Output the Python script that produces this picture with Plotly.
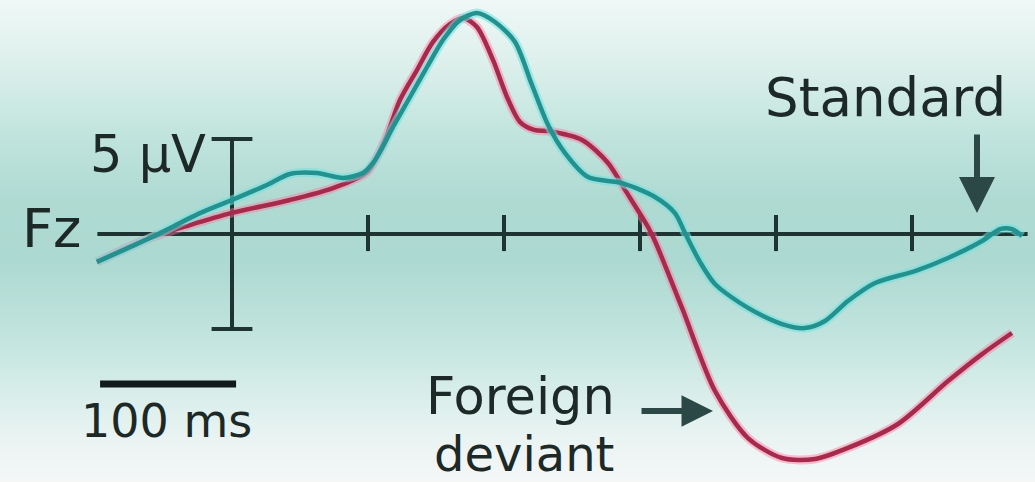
import plotly.graph_objects as go

# ERP waveforms at Fz: time in ms, amplitude in microvolts
standard_ms = [-99.3, -60.3, -23.5, 0.0, 25.7, 42.6, 62.5, 81.6, 96.3, 103.7, 108.8, 118.4,
               130.9, 143.4, 155.1, 167.6, 180.1, 193.4, 208.1, 220.6, 232.4, 244.9, 261.8,
               286.8, 311.0, 325.7, 333.1, 344.1, 355.1, 379.4, 404.4, 421.3, 436.0, 452.9,
               472.8, 502.2, 526.5, 551.5, 564.7, 573.5, 580.9]
standard_uv = [-1.47, -0.21, 1.10, 1.79, 2.58, 3.16, 3.21, 2.95, 3.21, 3.74, 4.32, 5.63,
               7.21, 8.79, 10.21, 11.26, 11.63, 11.16, 10.11, 7.84, 5.74, 4.26, 3.00,
               2.68, 1.95, 1.10, 0.05, -1.47, -2.63, -3.89, -4.74, -4.95, -4.58, -3.53,
               -2.58, -1.95, -1.26, -0.37, 0.26, 0.26, -0.11]

deviant_ms = [-99.3, -60.3, -30.9, 0.0, 42.6, 74.3, 99.3, 112.5, 123.5, 136.0, 147.8, 160.3,
              169.9, 180.1, 191.9, 202.2, 211.8, 222.8, 232.4, 257.4, 276.5, 289.0, 305.9,
              311.0, 330.9, 355.1, 379.4, 404.4, 428.7, 452.9, 489.7, 526.5, 551.5, 573.5]
deviant_uv = [-1.47, -0.21, 0.47, 1.11, 1.79, 2.42, 3.26, 4.95, 7.05, 8.63, 10.11, 11.05,
              11.37, 10.89, 9.16, 7.21, 5.89, 5.47, 5.42, 4.95, 3.74, 2.32, 0.37,
              -0.37, -3.89, -8.26, -10.74, -11.79, -11.84, -11.26, -10.00, -7.74, -6.32, -5.21]

# time axis ticks (ms) and calibration bars
tick_ms = [100, 200, 300, 400, 500]
axis_start_ms, axis_end_ms = -99, 585
amp_bar_uv = 5
time_bar_ms = 100

# canvas geometry: px per unit, origin location in the 1035x482 page
W, H = 1035, 482
PX_PER_MS = 1.36
PX_PER_UV = 19.0
X0_PX, Y0_PX = 232, 234


def ms(px):
    return (px - X0_PX) / PX_PER_MS


def uv(py):
    return (Y0_PX - py) / PX_PER_UV


x_range = [ms(0), ms(W)]
y_range = [uv(H), uv(0)]

INK = "#1d3432"
ARROW = "#2c4846"
TEAL = "#23918d"
TEAL_GLOW = "rgba(110,225,225,0.55)"
RED = "#a62a4c"
RED_GLOW = "rgba(255,120,160,0.45)"
FONT = "DejaVu Sans, Verdana, sans-serif"

fig = go.Figure()

# soft teal background band, strongest around the baseline
bg_py = [-20, 0, 60, 130, 200, 260, 330, 390, 440, 482, 510]
bg_col = ["#f3faf8", "#eff8f6", "#def0ec", "#c2e5de", "#aedad2", "#acd9d1",
          "#c0e3dd", "#d7ede9", "#eaf4f3", "#f5f7f7", "#f6f7f7"]
n = len(bg_py)
fig.add_trace(go.Heatmap(
    x=[x_range[0] - 50, x_range[1] + 50],
    y=[uv(p) for p in bg_py],
    z=[[i, i] for i in range(n)],
    colorscale=[[i / (n - 1), c] for i, c in enumerate(bg_col)],
    zmin=0, zmax=n - 1, zsmooth="best", showscale=False, hoverinfo="skip",
))


def segments(pairs):
    xs, ys = [], []
    for (xa, ya), (xb, yb) in pairs:
        xs += [xa, xb, None]
        ys += [ya, yb, None]
    return xs, ys


# baseline, ticks and amplitude bar
furniture = [((axis_start_ms, 0), (axis_end_ms, 0)),
             ((0, -amp_bar_uv), (0, amp_bar_uv)),
             ((-15, amp_bar_uv), (15, amp_bar_uv)),
             ((-15, -amp_bar_uv), (15, -amp_bar_uv))]
furniture += [((t, -0.9), (t, 1.0)) for t in tick_ms]
fx, fy = segments(furniture)
fig.add_trace(go.Scatter(x=fx, y=fy, mode="lines", hoverinfo="skip",
                         line=dict(color=INK, width=4)))

# 100 ms time bar
bar_y = uv(384)
fig.add_trace(go.Scatter(x=[-97, -97 + time_bar_ms], y=[bar_y, bar_y], mode="lines",
                         hoverinfo="skip", line=dict(color="#111a19", width=7)))

# waveforms with a soft halo under each stroke
for xs, ys, glow, core in [(deviant_ms, deviant_uv, RED_GLOW, RED),
                           (standard_ms, standard_uv, TEAL_GLOW, TEAL)]:
    fig.add_trace(go.Scatter(x=xs, y=ys, mode="lines", hoverinfo="skip",
                             line=dict(color=glow, width=9, shape="spline", smoothing=0.8)))
    fig.add_trace(go.Scatter(x=xs, y=ys, mode="lines", hoverinfo="skip",
                             line=dict(color=core, width=4.5, shape="spline", smoothing=0.8)))


def label(text, x, y, size, xanchor="center"):
    return dict(text=text, x=x, y=y, xref="x", yref="y", showarrow=False,
                xanchor=xanchor, yanchor="middle",
                font=dict(family=FONT, size=size, color="#1c2927"))


annotations = [
    label("Fz", ms(51), uv(228), 54),
    label("5 µV", ms(208), uv(154), 51, xanchor="right"),
    label("100 ms", ms(166), uv(421), 46),
    label("Standard", ms(885), uv(97), 53),
    label("Foreign", ms(520), uv(396), 51),
    label("deviant", ms(524), uv(454), 48),
    dict(text="", x=ms(977), y=uv(213), ax=ms(977), ay=uv(133),
         xref="x", yref="y", axref="x", ayref="y", showarrow=True,
         arrowhead=2, arrowsize=1.2, arrowwidth=6, arrowcolor=ARROW),
    dict(text="", x=ms(713), y=uv(411), ax=ms(640), ay=uv(411),
         xref="x", yref="y", axref="x", ayref="y", showarrow=True,
         arrowhead=2, arrowsize=1.05, arrowwidth=6, arrowcolor=ARROW),
]

fig.update_layout(
    width=W, height=H,
    margin=dict(l=0, r=0, t=0, b=0),
    paper_bgcolor="#eef6f4", plot_bgcolor="rgba(0,0,0,0)",
    showlegend=False,
    xaxis=dict(range=x_range, visible=False, fixedrange=True),
    yaxis=dict(range=y_range, visible=False, fixedrange=True),
    annotations=annotations,
)

fig.write_html("out.html")
